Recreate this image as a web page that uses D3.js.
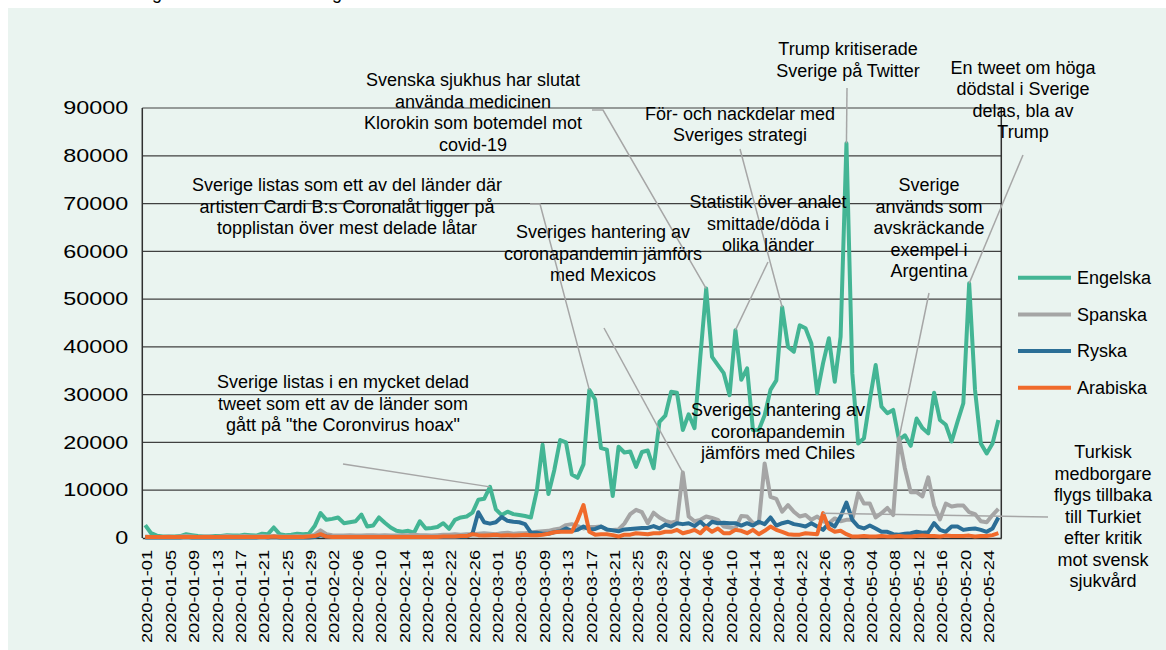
<!DOCTYPE html>
<html lang="sv">
  <head>
    <meta charset="utf-8">
    <title>Sverige i utländska tweets 2020</title>
    <script src="https://cdnjs.cloudflare.com/ajax/libs/d3/7.8.5/d3.min.js"></script>
    <style type="text/css">
    body { margin: 0; background: #ffffff; }
    text { font-family: "Liberation Sans", Arial, sans-serif; fill: #000000; }
    </style>
  </head>
  <body>
    <script type="text/javascript">
    //Width and height
    var w = 1166;
    var h = 650;

    // daily tweet counts, 2020-01-01 .. 2020-05-26
    var engelska = [2700, 1000, 500, 300, 300, 300, 400, 800, 600, 400, 300, 300, 400, 400, 600, 500, 500, 700, 600, 500,
      900, 800, 2200, 800, 600, 700, 900, 800, 900, 2500, 5200, 3800, 4000, 4300, 3100, 3300, 3500, 4900, 2400, 2600,
      4300, 3200, 2200, 1500, 1300, 1500, 1100, 3500, 2000, 2100, 2300, 3100, 1900, 3800, 4300, 4500, 5300, 8000, 8200, 10700,
      6000, 4800, 5500, 5000, 4800, 4600, 4300, 9800, 19500, 9200, 14200, 20500, 20000, 13300, 12600, 15400, 31000, 29000, 18800, 18500,
      8800, 19100, 17900, 18100, 14900, 18000, 18300, 14600, 24300, 25600, 30600, 30400, 22600, 25900, 23000, 38000, 52200, 37900, 36200, 34500,
      29900, 43500, 33100, 35500, 22600, 22600, 25700, 31000, 33000, 48300, 40000, 39000, 44500, 43900, 40700, 30300, 36600, 41800, 32700, 42100,
      82600, 34500, 19800, 20900, 28900, 36200, 27500, 26100, 26800, 20500, 21500, 19300, 25000, 23000, 21900, 30400, 24700, 23700, 20200, 24300,
      28200, 53300, 31000, 19800, 17700, 19800, 24700];
    var spanska = [300, 200, 200, 200, 300, 200, 300, 400, 300, 200, 300, 300, 200, 300, 400, 300, 300, 400, 300, 300,
      400, 300, 400, 300, 300, 300, 400, 300, 400, 700, 1600, 800, 600, 500, 500, 600, 500, 500, 600, 600,
      500, 600, 500, 500, 600, 600, 700, 600, 600, 500, 600, 700, 700, 800, 700, 800, 800, 900, 1000, 900,
      800, 1000, 1100, 900, 1000, 1000, 1100, 1300, 1400, 1500, 1800, 2000, 2700, 2900, 2500, 2000, 2300, 2300, 2400, 1700,
      1700, 1800, 3000, 5000, 5900, 5400, 3100, 5300, 4300, 3600, 3200, 3500, 13700, 4500, 3500, 3800, 4500, 4200, 3800, 2400,
      2200, 2000, 4600, 4500, 3100, 3100, 15600, 8600, 8200, 5500, 6900, 5500, 4500, 4800, 3800, 4500, 3500, 3100, 4100, 3500,
      3800, 3800, 9400, 7200, 7200, 4300, 5200, 6300, 4800, 20900, 14600, 9600, 9600, 8700, 12700, 6800, 3900, 7200, 6600, 6800,
      6800, 5400, 5000, 3500, 3300, 4800, 6100];
    var ryska = [100, 100, 100, 100, 100, 100, 100, 200, 100, 100, 100, 100, 100, 100, 100, 100, 100, 100, 100, 100,
      200, 100, 200, 100, 100, 100, 100, 100, 100, 200, 600, 300, 200, 200, 200, 200, 200, 200, 200, 200,
      200, 200, 200, 200, 200, 200, 200, 200, 200, 200, 200, 200, 200, 200, 300, 300, 900, 5400, 3300, 3000,
      3300, 4400, 3600, 3400, 3300, 2900, 1100, 1100, 900, 900, 1200, 1400, 2000, 1500, 1700, 2400, 1800, 1900, 2400, 1800,
      1600, 1400, 1800, 1900, 2000, 2100, 2100, 2500, 2000, 2800, 2400, 3100, 2900, 3100, 2500, 3400, 2300, 3400, 3100, 3200,
      3100, 3100, 2600, 3100, 2600, 3400, 2900, 4300, 2600, 3100, 3400, 2900, 2700, 2400, 3100, 2400, 1700, 3100, 2400, 4500,
      7400, 3800, 2400, 2000, 2600, 2000, 1300, 1300, 800, 700, 900, 1000, 1300, 1100, 1200, 3100, 1700, 1300, 2400, 2400,
      1700, 1900, 2000, 1700, 1300, 2000, 4300];
    var arabiska = [200, 200, 200, 200, 200, 200, 200, 200, 200, 200, 200, 200, 200, 200, 200, 200, 200, 200, 200, 200,
      200, 200, 300, 200, 200, 200, 200, 200, 300, 400, 800, 300, 200, 200, 200, 200, 200, 200, 200, 200,
      200, 200, 200, 200, 200, 200, 200, 200, 200, 200, 200, 300, 300, 300, 400, 400, 800, 600, 500, 600,
      700, 500, 600, 500, 600, 700, 600, 600, 700, 900, 1200, 1300, 1300, 1300, 3800, 6900, 1300, 700, 800, 800,
      600, 300, 700, 700, 1000, 900, 800, 1000, 1000, 1300, 1300, 1700, 1000, 1300, 1700, 1000, 2200, 1300, 2000, 1000,
      1000, 1700, 1500, 1000, 1700, 800, 1500, 2400, 1700, 1300, 800, 700, 700, 1000, 900, 800, 5200, 2000, 1300, 1500,
      800, 300, 300, 400, 300, 300, 400, 300, 300, 400, 300, 300, 400, 500, 400, 400, 300, 500, 400, 400,
      400, 500, 300, 400, 400, 600, 1000];

    var seriesNames = ["Engelska", "Spanska", "Ryska", "Arabiska"];
    var seriesColors = ["#43b594", "#a5a5a5", "#2b6e96", "#f06a2b"];
    var yTicks = [0, 10000, 20000, 30000, 40000, 50000, 60000, 70000, 80000, 90000];

    // categories: one per day
    var firstDay = new Date(2020, 0, 1);
    var days = d3.timeDay.range(firstDay, d3.timeDay.offset(firstDay, engelska.length));
    var fmt = d3.timeFormat("%Y-%m-%d");
    var dayLabels = days.map(fmt);
    var tickLabels = dayLabels.filter(function(d, i) { return i % 4 === 0; });

    // annotations: text lines, centre x, first line y, leader start point(s)
    var notes = [
      { lines: ["Svenska sjukhus har slutat", "använda medicinen", "Klorokin som botemdel mot", "covid-19"],
        cx: 473, cy: 80, lead: [[592, 110], [603, 110]], s: 0, day: 96 },
      { lines: ["Trump kritiserade", "Sverige på Twitter"], cx: 848, cy: 49, lead: [[847, 88]], s: 0, day: 120 },
      { lines: ["En tweet om höga", "dödstal i Sverige", "delas, bla av", "Trump"], cx: 1023, cy: 67.5, lead: [[1023, 155]], s: 0, day: 141 },
      { lines: ["Sverige", "används som", "avskräckande", "exempel i", "Argentina"], cx: 929, cy: 185, lead: [[929, 293]], s: 1, day: 129 },
      { lines: ["För- och nackdelar med", "Sveriges strategi"], cx: 740, cy: 113.5, lead: [[740, 149]], s: 0, day: 109 },
      { lines: ["Statistik över analet", "smittade/döda i", "olika länder"], cx: 768, cy: 202, lead: [[768, 262]], s: 0, day: 101 },
      { lines: ["Sveriges hantering av", "coronapandemin jämförs", "med Mexicos"], cx: 603, cy: 232, lead: [[604, 328]], s: 1, day: 92 },
      { lines: ["Sverige listas som ett av del länder där", "artisten Cardi B:s Coronalåt ligger på", "topplistan över mest delade låtar"],
        cx: 347, cy: 185, lead: [[530, 204], [540, 204]], s: 0, day: 76 },
      { lines: ["Sverige listas i en mycket delad", "tweet som ett av de länder som", "gått på \"the Coronvirus hoax\""],
        cx: 343, cy: 382, lead: [[343, 464]], s: 0, day: 59 },
      { lines: ["Sveriges hantering av", "coronapandemin", "jämförs med Chiles"], cx: 778, cy: 410, lead: null, s: 1, day: 106 },
      { lines: ["Turkisk", "medborgare", "flygs tillbaka", "till Turkiet", "efter kritik", "mot svensk", "sjukvård"],
        cx: 1103, cy: 452, lead: [[1048, 517]], s: 3, day: 116 }
    ];

    var allSeries = [engelska, spanska, ryska, arabiska];
    // note: "top" is taken by window.top, so use plot* names
    var plotLeft = 142.3, plotRight = 1001.3, plotTop = 108, plotBottom = 538;
    var lineGap = 21.5;

    var svg = d3.select("body")
      .append("svg")
      .attr("width", w)
      .attr("height", h);

    // background
    svg.append("rect")
      .attr("x", 8).attr("y", 8)
      .attr("width", w - 8).attr("height", h - 8)
      .attr("fill", "#eaf4f0");

    // cut off text from the page above
    svg.selectAll("text.cut")
      .data([157, 337])
      .enter()
      .append("text")
      .attr("class", "cut")
      .attr("x", function(d) { return d; })
      .attr("y", -1.5)
      .attr("text-anchor", "middle")
      .attr("font-size", "18px")
      .text("g");

    var x = d3.scaleBand()
      .domain(dayLabels)
      .range([plotLeft, plotRight])
      .padding(0);
    var bw = x.bandwidth();

    var y = d3.scaleLinear()
      .domain([0, 90000])
      .range([plotBottom, plotTop]);

    // gridlines
    svg.selectAll("line.grid")
      .data(yTicks.slice(1))
      .enter()
      .append("line")
      .attr("class", "grid")
      .attr("x1", plotLeft).attr("x2", plotRight)
      .attr("y1", function(d) { return y(d); })
      .attr("y2", function(d) { return y(d); })
      .attr("stroke", "#404040")
      .attr("stroke-width", 1.2);

    // left and right frame
    svg.selectAll("line.frame")
      .data([plotLeft, plotRight])
      .enter()
      .append("line")
      .attr("class", "frame")
      .attr("x1", function(d) { return d; }).attr("x2", function(d) { return d; })
      .attr("y1", plotTop).attr("y2", plotBottom)
      .attr("stroke", "#303030")
      .attr("stroke-width", 1.5);

    // y axis labels (stretched a bit wide, like the original)
    var yAxis = svg.append("g")
      .attr("transform", "translate(" + plotLeft + ",0)")
      .call(d3.axisLeft(y).tickValues(yTicks).tickSize(0).tickFormat(d3.format("d")));
    yAxis.select(".domain").remove();
    yAxis.selectAll("text")
      .attr("x", 0)
      .attr("transform", "translate(-14,0) scale(1.3,1)")
      .attr("font-family", "Liberation Sans, Arial, sans-serif")
      .attr("font-size", "18px")
      .attr("fill", "#000");

    // x axis
    var xAxis = svg.append("g")
      .attr("transform", "translate(0," + plotBottom + ")")
      .call(d3.axisBottom(x).tickValues(tickLabels).tickSize(0).tickSizeOuter(0));
    xAxis.select(".domain")
      .attr("stroke", "#303030")
      .attr("stroke-width", 1.5);
    xAxis.selectAll("text")
      .attr("x", 0).attr("y", 0).attr("dy", "0.35em")
      .attr("text-anchor", "end")
      .attr("transform", "translate(2.3,12) rotate(-90) scale(1.3,1)")
      .attr("font-family", "Liberation Sans, Arial, sans-serif")
      .attr("font-size", "14px")
      .attr("fill", "#000");

    // series lines
    var line = d3.line()
      .x(function(d, i) { return x(dayLabels[i]) + bw / 2; })
      .y(function(d) { return y(d); });

    svg.selectAll("path.series")
      .data(allSeries)
      .enter()
      .append("path")
      .attr("class", "series")
      .attr("d", line)
      .attr("fill", "none")
      .attr("stroke", function(d, i) { return seriesColors[i]; })
      .attr("stroke-width", 4)
      .attr("stroke-linejoin", "round");

    // leader lines
    svg.selectAll("polyline.lead")
      .data(notes.filter(function(n) { return n.lead; }))
      .enter()
      .append("polyline")
      .attr("class", "lead")
      .attr("points", function(n) {
        var pts = n.lead.concat([[x(dayLabels[n.day]) + bw / 2, y(allSeries[n.s][n.day])]]);
        return pts.map(function(p) { return p.join(","); }).join(" ");
      })
      .attr("fill", "none")
      .attr("stroke", "#a6a6a6")
      .attr("stroke-width", 1.5);

    // annotation texts
    var noteText = svg.selectAll("text.note")
      .data(notes)
      .enter()
      .append("text")
      .attr("class", "note")
      .attr("text-anchor", "middle")
      .attr("font-size", "18px");
    noteText.selectAll("tspan")
      .data(function(n) { return n.lines.map(function(l, k) { return { t: l, x: n.cx, y: n.cy + k * lineGap }; }); })
      .enter()
      .append("tspan")
      .attr("x", function(d) { return d.x; })
      .attr("y", function(d) { return d.y; })
      .attr("dy", "0.35em")
      .text(function(d) { return d.t; });

    // legend
    var legend = svg.selectAll("g.legend")
      .data(seriesNames)
      .enter()
      .append("g")
      .attr("class", "legend")
      .attr("transform", function(d, i) { return "translate(1018," + (277.7 + i * 36.7) + ")"; });
    legend.append("line")
      .attr("x1", 0).attr("x2", 53)
      .attr("stroke", function(d, i) { return seriesColors[i]; })
      .attr("stroke-width", 4);
    legend.append("text")
      .attr("x", 59)
      .attr("dy", "0.35em")
      .attr("font-size", "18px")
      .text(function(d) { return d; });
    </script>
  </body>
</html>
